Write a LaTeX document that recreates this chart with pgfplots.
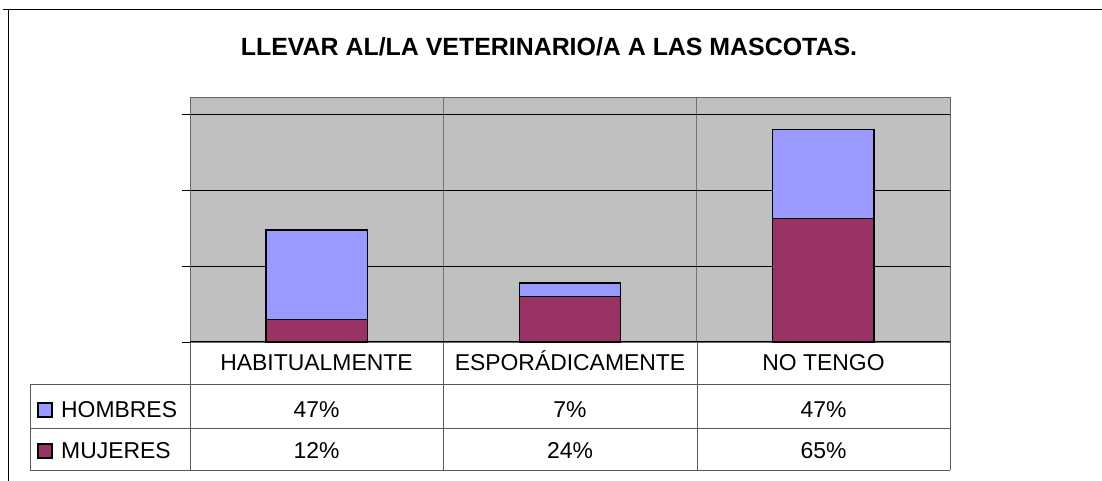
\documentclass[border=0pt]{standalone}
\usepackage{pgfplots}
\pgfplotsset{compat=1.18}
\usepackage{fontspec}
\setmainfont{Liberation Sans}
\definecolor{hom}{HTML}{9999FF}
\definecolor{muj}{HTML}{993366}
\definecolor{plotbg}{HTML}{C0C0C0}
\begin{document}
\begin{tikzpicture}[x=1bp,y=1bp]
\path[use as bounding box] (0,0) rectangle (1102,-481);
% outer frame
\draw[black,line width=1bp] (3,-10) -- (1102,-10);
\draw[black,line width=1bp] (8,-10) -- (8,-481);
% title
\node[font=\bfseries\fontsize{25}{27}\selectfont, anchor=base, inner sep=0pt] at (549,-56) {LLEVAR AL/LA VETERINARIO/A A LAS MASCOTAS.};
\begin{axis}[
  at={(190bp,-342bp)}, anchor=south west,
  scale only axis, width=760bp, height=244bp,
  xmin=-0.5, xmax=2.5, ymin=0, ymax=128.5,
  ybar stacked, bar width=0.4,
  axis background/.style={fill=plotbg},
  axis line style={draw=black!60, line width=1bp},
  xtick={0.5,1.5}, xticklabels={}, xmajorgrids,
  major x tick style={draw=none},
  ytick={0,40,80,120}, yticklabels={}, ymajorgrids,
  x grid style={draw=black!55, line width=1bp},
  y grid style={draw=black, line width=0.8bp},
  ytick style={draw=black, line width=0.8bp},
  tick align=outside, major tick length=8bp,
  ytick pos=left,
]
\addplot[fill=muj, draw=black, line width=1.4bp] coordinates {(0,12) (1,24) (2,65)};
\addplot[fill=hom, draw=black, line width=1.4bp] coordinates {(0,47) (1,7) (2,47)};
\end{axis}
\draw[black,line width=1bp] (190,-342) -- (950,-342);
% data table
\begin{scope}[draw=black!65, line width=1bp]
\draw (30,-385) -- (950,-385);
\draw (30,-428) -- (950,-428);
\draw (30,-470) -- (950,-470);
\draw (30,-385) -- (30,-470);
\foreach \xx in {190,443,697,950} {\draw (\xx,-342) -- (\xx,-470);}
\end{scope}
\begin{scope}[every node/.style={font=\fontsize{23}{25}\selectfont, anchor=base, inner sep=0pt}]
\node at (316.5,-371) {HABITUALMENTE};
\node at (570,-371) {ESPORÁDICAMENTE};
\node at (823.5,-371) {NO TENGO};
\node at (316.5,-417) {47\%};
\node at (570,-417) {7\%};
\node at (823.5,-417) {47\%};
\node at (316.5,-458) {12\%};
\node at (570,-458) {24\%};
\node at (823.5,-458) {65\%};
\node[anchor=base west] at (61,-417) {HOMBRES};
\node[anchor=base west] at (61,-458) {MUJERES};
\end{scope}
\draw[fill=hom, draw=black, line width=1.2bp] (38,-403) rectangle (52,-417);
\draw[fill=muj, draw=black, line width=1.2bp] (38,-444) rectangle (52,-458);
\end{tikzpicture}
\end{document}
